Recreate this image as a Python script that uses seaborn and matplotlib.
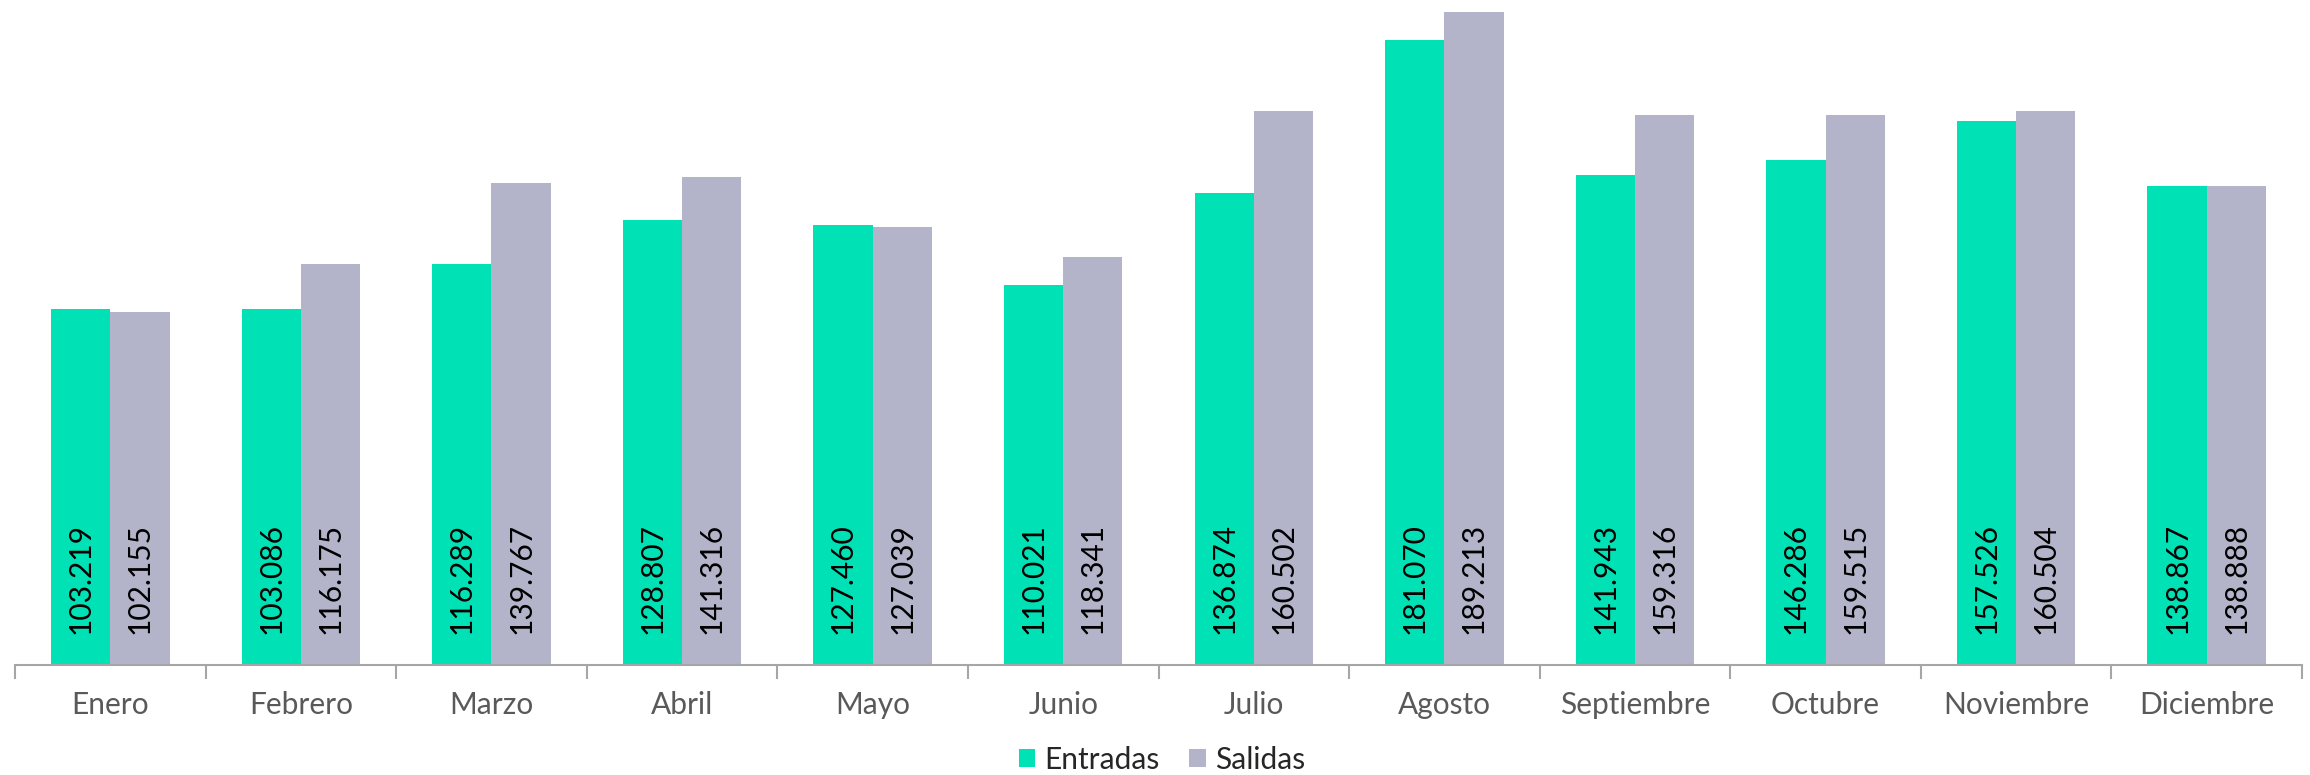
import matplotlib
matplotlib.use("Agg")
import matplotlib.pyplot as plt
import seaborn as sns
import pandas as pd
import numpy as np
from matplotlib.patches import Patch

months = ["Enero", "Febrero", "Marzo", "Abril", "Mayo", "Junio", "Julio",
          "Agosto", "Septiembre", "Octubre", "Noviembre", "Diciembre"]
entradas = [103219, 103086, 116289, 128807, 127460, 110021, 136874,
            181070, 141943, 146286, 157526, 138867]
salidas = [102155, 116175, 139767, 141316, 127039, 118341, 160502,
           189213, 159316, 159515, 160504, 138888]
series = ["Entradas", "Salidas"]
colors = ["#00E2B5", "#B3B4C9"]

df = pd.DataFrame({
    "Mes": months * 2,
    "Serie": ["Entradas"] * len(months) + ["Salidas"] * len(months),
    "Valor": entradas + salidas,
})

sns.set_style("white")
plt.rcParams["font.family"] = ["Lato", "DejaVu Sans"]

fig = plt.figure(figsize=(23.1, 7.75), dpi=100)
ax = fig.add_axes([15 / 2310, 110 / 775, 2287 / 2310, 665 / 775])

sns.barplot(data=df, x="Mes", y="Valor", hue="Serie", order=months,
            hue_order=series, palette=colors, width=0.622, gap=0,
            linewidth=0, saturation=1, ax=ax, legend=False)

ax.set_xlim(-0.5, len(months) - 0.5)
ax.set_ylim(0, 192700)
ax.set_xlabel("")
ax.set_ylabel("")
ax.set_yticks([])
for s in ["top", "right", "left"]:
    ax.spines[s].set_visible(False)
ax.spines["bottom"].set_color("#A6A6A6")
ax.spines["bottom"].set_linewidth(1.5)

ax.set_xticks(np.arange(-0.5, len(months), 1.0), minor=True)
ax.tick_params(axis="x", which="minor", bottom=True, length=10, width=1.5,
               color="#A6A6A6", direction="out")
ax.tick_params(axis="x", which="major", bottom=False, length=0, pad=19,
               labelsize=21.5, labelcolor="#595959")

def fmt(v):
    return f"{v:,}".replace(",", ".")

for cont, vals in zip(ax.containers, [entradas, salidas]):
    for patch, v in zip(cont.patches, vals):
        xc = patch.get_x() + patch.get_width() / 2
        ax.annotate(fmt(v), (xc, 0), xytext=(0, 31), textcoords="offset pixels",
                    rotation=90, ha="center", va="bottom", fontsize=21.5, color="black")

handles = [Patch(facecolor=c, edgecolor="none", label=l) for c, l in zip(colors, series)]
fig.legend(handles=handles, loc="center", bbox_to_anchor=(1162 / 2310, 15 / 775),
           ncol=2, frameon=False, fontsize=21.5, handlelength=0.55, handleheight=0.55,
           handletextpad=0.3, columnspacing=1.0)

fig.savefig("out.png", dpi=100)
